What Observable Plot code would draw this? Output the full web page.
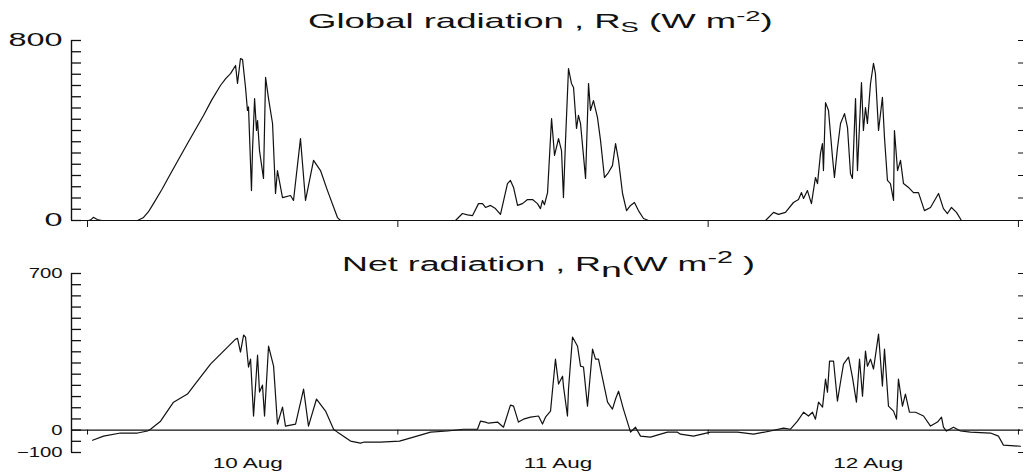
<!DOCTYPE html>
<html>
<head>
<meta charset="utf-8">
<script src="https://cdn.jsdelivr.net/npm/d3@7"></script>
<script src="https://cdn.jsdelivr.net/npm/@observablehq/plot@0.6"></script>
<style>
  body { margin: 0; background: #fff; }
  #chart { width: 1026px; height: 473px; position: relative; background: #fff; }
  #chart svg { display: block; }
</style>
</head>
<body>
<div id="chart"></div>
<script>
// ---- Data (time in hours since 10 Aug 00:00) ----
const rsTime = [0.08,0.25,0.45,0.75,1.1,3.87,4.3,4.7,5.10,5.75,6.42,7.73,8.97,9.6,10.28,10.7,11.06,11.45,11.60,11.83,11.99,12.22,12.37,12.45,12.68,12.76,12.92,13.07,13.15,13.30,13.61,13.77,14.0,14.31,14.54,14.69,15.08,15.70,15.93,16.47,16.86,17.48,18.02,18.56,19.33,19.57,
  28.46,29.0,29.39,29.78,30.24,30.55,30.78,31.17,31.55,31.94,32.48,32.71,32.95,33.26,33.64,34.03,34.42,34.80,35.03,35.19,35.34,35.58,35.89,36.12,36.43,36.66,36.81,36.97,37.20,37.43,37.59,37.82,37.97,38.13,38.52,38.75,38.90,39.13,39.44,39.68,39.98,40.29,40.60,40.84,41.07,41.38,41.69,42.0,42.30,42.61,43.0,43.39,
  52.44,53.06,53.44,53.98,54.60,54.99,55.22,55.38,55.68,55.99,56.30,56.46,56.69,56.84,56.92,57.08,57.31,57.62,57.77,58.0,58.24,58.55,58.78,59.01,59.16,59.40,59.55,59.86,60.01,60.17,60.32,60.56,60.79,60.94,61.18,61.48,61.64,61.87,62.10,62.34,62.41,62.65,62.88,63.11,63.50,63.88,64.27,64.73,65.20,65.82,66.20,66.51,66.82,67.21,67.59,72.0];
const rsValue = [0,3,14,4,0,0,12,38,75,138,208,342,467,535,600,632,653,689,609,720,715,591,489,505,133,311,542,400,444,311,187,636,542,431,120,222,102,111,89,364,89,267,222,133,13,0,
  0,31,25,22,75,75,58,67,53,27,164,178,147,67,75,93,93,75,53,89,70,124,453,289,364,311,102,355,675,609,591,409,467,431,187,609,489,533,458,355,191,213,244,342,267,120,44,67,80,44,9,0,
  0,36,27,36,80,93,124,98,133,75,191,164,298,342,222,524,489,280,191,320,431,475,413,209,187,542,222,613,400,502,431,609,698,653,400,547,369,178,164,89,400,222,267,164,147,124,124,44,58,120,53,31,58,36,0,0];

const rnTime = [0.39,1.24,2.55,3.87,4.64,4.87,5.65,6.65,7.73,8.20,9.51,10.83,11.45,11.60,11.83,12.07,12.22,12.45,12.61,12.84,13.15,13.30,13.53,13.69,14.0,14.39,14.69,15.08,15.31,16.09,16.71,17.09,17.71,18.41,19.03,19.33,19.57,20.11,20.34,21.11,21.35,22.66,24.13,25.21,26.53,27.84,
  29.08,30.16,30.39,30.78,31.01,31.71,32.17,32.71,32.95,33.33,33.72,34.26,34.88,35.19,35.42,35.81,36.19,36.43,36.74,36.81,37.12,37.20,37.51,37.90,38.13,38.36,38.67,39.06,39.29,39.52,40.22,40.60,40.84,41.07,41.45,41.76,42.0,42.38,42.77,43.54,44.32,44.86,45.63,45.86,46.87,48.18,50.27,51.51,52.82,
  53.83,54.37,54.91,55.38,55.76,56.07,56.30,56.54,56.85,57.08,57.23,57.39,57.70,58.0,58.24,58.47,58.86,59.16,59.47,59.71,59.94,60.17,60.32,60.56,60.79,61.18,61.48,61.64,61.95,62.34,62.57,62.72,63.03,63.26,63.57,64.04,64.66,65.20,65.74,66.05,66.20,66.43,66.98,67.52,68.29,69.84,70.46,70.84,72.16];
const rnValue = [-45,-27,-13,-13,-4,4,40,125,161,197,295,371,407,410,349,425,416,282,317,63,335,170,201,63,375,286,27,103,18,27,183,18,139,85,4,-9,-18,-40,-49,-58,-54,-54,-49,-31,-9,-4,
  4,4,40,36,31,36,13,112,107,36,49,58,63,27,58,85,317,206,241,197,63,183,416,375,286,282,107,362,317,317,125,94,139,174,94,36,-9,13,-27,-31,-18,-9,-9,-18,-27,-9,-9,-18,-4,
  9,4,40,80,63,80,49,125,103,228,170,308,308,130,215,295,326,237,125,317,152,353,286,317,273,429,197,362,107,85,49,228,107,161,80,80,63,18,36,58,13,-4,13,-4,-9,-13,-27,-67,-72];

const dayTicks = [0, 24, 48, 72];
const dayLabelTimes = [12, 36, 60];
const dayLabels = ["10 Aug", "11 Aug", "12 Aug"];
const rsMinorTicks = d3.range(0, 801, 50);
const rsRightTicks = d3.range(0, 801, 100);
const rsLabelTicks = [0, 800];
const rnMinorTicks = d3.range(-100, 701, 50);
const rnRightTicks = d3.range(-100, 701, 100);
const rnLabelTicks = [-100, 0, 700];

const xDomain = [-1.24, 72.16];
const font = "'Liberation Sans', Arial, Helvetica, sans-serif";
const ink = "#111";

const rs = rsTime.map((t, i) => ({t, v: rsValue[i]}));
const rn = rnTime.map((t, i) => ({t, v: rnValue[i]}));

const common = {
  width: 1026,
  marginLeft: 71,
  marginRight: 6,
  x: {domain: xDomain},
  style: {fontFamily: font, color: ink, background: "white", overflow: "visible"}
};

const p1 = Plot.plot({
  ...common,
  height: 245,
  marginTop: 40,
  marginBottom: 25,
  y: {domain: [0, 800]},
  marks: [
    Plot.ruleY([0], {stroke: ink, strokeWidth: 1.2}),
    Plot.ruleX([xDomain[0]], {y1: 0, y2: 800, stroke: ink, strokeWidth: 1.4}),
    Plot.axisY({ticks: rsMinorTicks, tickSize: 10, dx: 10, tickFormat: () => "", label: null, strokeWidth: 1.3}),
    Plot.axisY({ticks: rsLabelTicks, tickSize: 0, tickPadding: 9, tickFormat: d => String(d), label: null, fontSize: 18}),
    Plot.axisY({anchor: "right", ticks: rsRightTicks, tickSize: 5, dx: -3, tickFormat: () => "", label: null}),
    Plot.axisX({ticks: dayTicks, tickSize: 7, tickFormat: () => "", label: null}),
    Plot.line(rs, {x: "t", y: "v", stroke: ink, strokeWidth: 1.2})
  ]
});

const p2 = Plot.plot({
  ...common,
  height: 228,
  marginTop: 28,
  marginBottom: 21,
  y: {domain: [-100, 700]},
  marks: [
    Plot.ruleY([0], {stroke: ink, strokeWidth: 1.1}),
    Plot.ruleX([xDomain[0]], {y1: -100, y2: 700, stroke: ink, strokeWidth: 1.4}),
    Plot.axisY({ticks: rnMinorTicks, tickSize: 10, dx: 10, tickFormat: () => "", label: null, strokeWidth: 1.3}),
    Plot.axisY({ticks: rnLabelTicks, tickSize: 0, tickPadding: 9, label: null, fontSize: 14}),
    Plot.axisY({anchor: "right", ticks: rnRightTicks, tickSize: 5, dx: -3, tickFormat: () => "", label: null}),
    Plot.ruleX(dayTicks, {y1: 0, y2: -22, stroke: ink, strokeWidth: 1}),
    Plot.axisX({ticks: dayLabelTimes, tickSize: 0, tickPadding: 5, dx: 5, fontSize: 15,
      tickFormat: d => dayLabels[dayLabelTimes.indexOf(d)], label: null}),
    Plot.line(rn, {x: "t", y: "v", stroke: ink, strokeWidth: 1.2})
  ]
});

const chart = document.getElementById("chart");
chart.append(p1, p2);

// horizontally stretched lettering, as in the original figure
function stretch(svg, selector, sx) {
  d3.select(svg).selectAll(selector).each(function () {
    const t = this.getAttribute("transform") || "";
    this.setAttribute("transform", t + ` scale(${sx},1)`);
  });
}
stretch(p1, 'g[aria-label="y-axis tick label"] text', 1.8);
stretch(p2, 'g[aria-label="y-axis tick label"] text', 1.45);
stretch(p2, 'g[aria-label="x-axis tick label"] text', 1.5);

function addTitle(svg, parts, x0, baseline, targetWidth, fontSize) {
  const text = d3.select(svg).append("text")
    .attr("font-family", font)
    .attr("font-size", fontSize)
    .attr("text-anchor", "start")
    .attr("fill", ink)
    .style("white-space", "pre");
  for (const p of parts) {
    const ts = text.append("tspan").text(p.text);
    if (p.dy) ts.attr("dy", p.dy);
    if (p.dx) ts.attr("dx", p.dx);
    if (p.size) ts.attr("font-size", p.size);
  }
  const w = text.node().getBBox().width;
  text.attr("transform", `translate(${x0},${baseline}) scale(${targetWidth / w},1)`);
}

addTitle(p1, [
  {text: "Global radiation , R"},
  {text: "S", dy: 4, size: 15},
  {text: " (W m", dy: -4},
  {text: "-2", dy: -7, size: 15},
  {text: ")", dy: 7}
], 308, 28, 465, 20);

addTitle(p2, [
  {text: "Net radiation , R"},
  {text: "n", dy: 6, size: 21},
  {text: "(W m", dy: -6},
  {text: "-2", dy: -8, size: 16},
  {text: " )", dy: 8}
], 342, 26, 413, 20);
</script>
</body>
</html>
